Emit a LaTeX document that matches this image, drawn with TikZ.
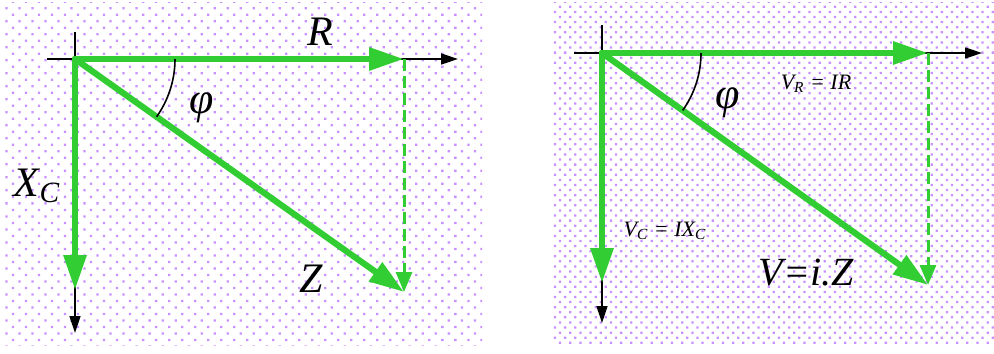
\documentclass[tikz,border=0pt]{standalone}
\usepackage{fontspec}
\setmainfont{Liberation Serif}
\usetikzlibrary{arrows.meta,patterns.meta}
\definecolor{PhasorGreen}{RGB}{50,205,50}
\definecolor{DotPurple}{RGB}{200,145,255}

\begin{document}
\begin{tikzpicture}[x=0.5pt, y=0.5pt,
    every node/.style={font=\fontsize{21}{24}\selectfont\itshape, inner sep=0pt},
    smalllabel/.style={font=\fontsize{11}{13}\selectfont\itshape},
    vec/.style={PhasorGreen, line width=3.1pt, line cap=round,
        -{Triangle[length=17.5pt, width=11pt]}},
    axis/.style={line width=0.7pt, -{Triangle[length=8.5pt, width=5.5pt]}},
    proj/.style={PhasorGreen, line width=1.5pt, dash pattern=on 6pt off 2.5pt,
        -{Triangle[length=10pt, width=8pt]}},
    anglearc/.style={line width=0.8pt}]
\useasboundingbox (0,0) rectangle (994,-353);
% dotted backgrounds
\fill[pattern={Dots[distance=4.6pt, angle=45, radius=0.8pt]}, pattern color=DotPurple]
    (3,-3) rectangle (482,-345);
\fill[pattern={Dots[distance=3.6pt, angle=45, radius=0.8pt]}, pattern color=DotPurple]
    (553,-3) rectangle (994,-345);

% left: impedance triangle
\coordinate (O) at (75,-59);
\coordinate (Rtip) at (404,-59);
\coordinate (Xtip) at (75,-290);
\coordinate (Ztip) at (404,-292);
\coordinate (xl) at (47,-59);
\coordinate (xr) at (458,-59);
\coordinate (yt) at (75,-32);
\coordinate (yb) at (75,-333);
\coordinate (arcL) at (175,-59);
\draw[axis] (xl) -- (xr);
\draw[axis] (yt) -- (yb);
\draw[proj] (Rtip) -- (Ztip);
\draw[vec] (O) -- (Rtip);
\draw[vec] (O) -- (Xtip);
\draw[vec] (O) -- (Ztip);
\draw[anglearc] (arcL) arc[start angle=0, end angle=-35.3, radius=100];
\node (R) at (320,-32) {R};
\node[font=\fontsize{22}{24}\selectfont\itshape] (phiL) at (202,-108) {φ};
\node (XC) at (37,-186) {X\textsubscript{C}};
\node (Z) at (311,-279) {Z};

% right: voltage triangle
\coordinate (O2) at (602,-53);
\coordinate (VRtip) at (928,-53);
\coordinate (VCtip) at (602,-283);
\coordinate (Vtip) at (928,-285);
\coordinate (xl2) at (574,-53);
\coordinate (xr2) at (982,-53);
\coordinate (yt2) at (602,-25);
\coordinate (yb2) at (602,-323);
\coordinate (arcR) at (701,-53);
\draw[axis] (xl2) -- (xr2);
\draw[axis] (yt2) -- (yb2);
\draw[proj] (VRtip) -- (Vtip);
\draw[vec] (O2) -- (VRtip);
\draw[vec] (O2) -- (VCtip);
\draw[vec] (O2) -- (Vtip);
\draw[anglearc] (arcR) arc[start angle=0, end angle=-35.4, radius=99];
\node[font=\fontsize{22}{24}\selectfont\itshape] (phiR) at (728,-103) {φ};
\node[smalllabel] (VR) at (816,-84) {V\textsubscript{R} = IR};
\node[smalllabel] (VC) at (665,-231) {V\textsubscript{C} = IX\textsubscript{C}};
\node[font=\fontsize{20}{24}\selectfont\itshape] (V) at (806,-273) {V=i.Z};
\end{tikzpicture}
\end{document}
